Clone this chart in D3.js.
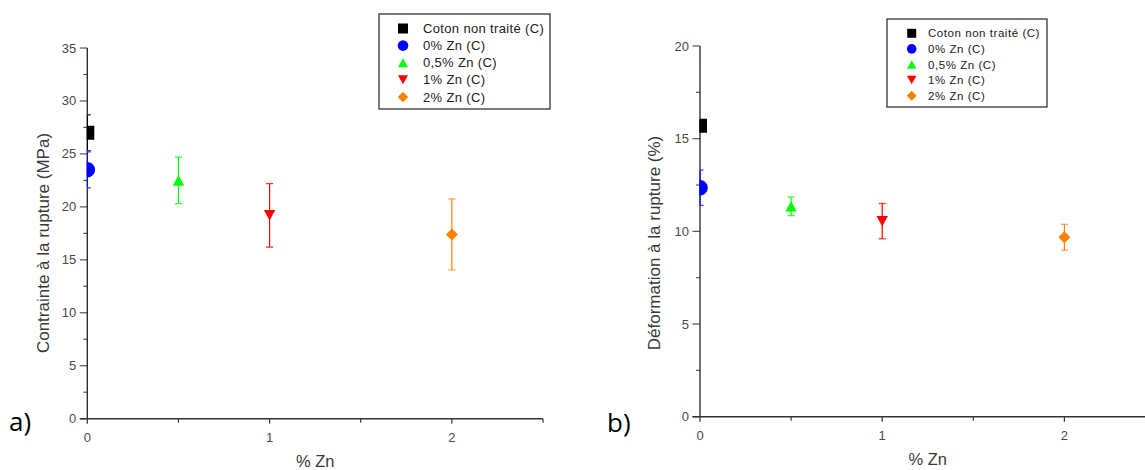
<!DOCTYPE html>
<html><head><meta charset="utf-8">
<script src="https://cdn.jsdelivr.net/npm/d3@7"></script>
<style>
html,body{margin:0;padding:0;background:#fff;}
svg{display:block;}
</style></head>
<body>
<svg id="chart" width="1145" height="470"></svg>
<script>
// ---- data ----
const categories = ["Coton non traité (C)", "0% Zn (C)", "0,5% Zn (C)", "1% Zn (C)", "2% Zn (C)"];
const zincPct = [0, 0, 0.5, 1, 2];
const stressMPa = [27.0, 23.5, 22.5, 19.2, 17.4];
const stressErr = [1.7, 1.7, 2.2, 3.0, 3.35];
const strainPct = [15.7, 12.35, 11.35, 10.55, 9.68];
const strainErr = [0.3, 0.95, 0.5, 0.95, 0.7];
const xTicks = [0, 1, 2];
const xMinorTicks = [0.5, 1.5, 2.5];
const stressTicks = [0, 5, 10, 15, 20, 25, 30, 35];
const strainTicks = [0, 5, 10, 15, 20];

// ---- styles ----
const colors = ["#000000", "#0000ff", "#00ff00", "#ff0000", "#ff8000"];
const capColors = ["#444444", "#3a3aff", "#33ff33", "#ff3333", "#ffa050"];
const shapes = ["square", "circle", "triangle", "down", "diamond"];
const FONT = "'Liberation Sans', Arial, sans-serif";

const svg = d3.select("#chart");

function shapePath(shape, s) {
  const p = d3.path();
  if (shape === "square") { const h = s.sq / 2; p.rect(-h, -h, s.sq, s.sq); }
  else if (shape === "circle") { p.arc(0, 0, s.r, 0, 2 * Math.PI); }
  else if (shape === "triangle") { const w = s.tw / 2, h = s.th / 2; p.moveTo(0, -h); p.lineTo(w, h); p.lineTo(-w, h); p.closePath(); }
  else if (shape === "down") { const w = s.tw / 2, h = s.th / 2; p.moveTo(-w, -h); p.lineTo(w, -h); p.lineTo(0, h); p.closePath(); }
  else if (shape === "diamond") { const d = s.dm / 2; p.moveTo(0, -d); p.lineTo(d, 0); p.lineTo(0, d); p.lineTo(-d, 0); p.closePath(); }
  return p.toString();
}

function drawPanel(cfg) {
  const g = svg.append("g");
  const x = d3.scaleLinear().domain([0, 2.5]).range([cfg.x0, cfg.x1]);
  const y = d3.scaleLinear().domain([0, cfg.ymax]).range([cfg.y0, cfg.y1]);

  const minorY = d3.range(2.5, cfg.ymax, 5);
  g.selectAll(".ymin").data(minorY).join("line")
    .attr("x1", cfg.x0 - 4).attr("x2", cfg.x0)
    .attr("y1", d => y(d)).attr("y2", d => y(d))
    .attr("stroke", "#555").attr("stroke-width", 1.2);
  g.selectAll(".ymaj").data(cfg.yTicks).join("line")
    .attr("x1", cfg.x0 - 7.5).attr("x2", cfg.x0)
    .attr("y1", d => y(d)).attr("y2", d => y(d))
    .attr("stroke", "#555").attr("stroke-width", 1.2);
  g.selectAll(".ylab").data(cfg.yTicks).join("text")
    .attr("x", cfg.x0 - 11).attr("y", d => y(d) + 4.5)
    .attr("text-anchor", "end").attr("font-family", FONT).attr("font-size", 13)
    .attr("fill", "#4a4a4a").text(d => d);

  g.selectAll(".xmaj").data(xTicks).join("line")
    .attr("x1", d => x(d)).attr("x2", d => x(d))
    .attr("y1", cfg.y0).attr("y2", cfg.y0 + 5)
    .attr("stroke", "#333").attr("stroke-width", 1.2);
  g.selectAll(".xmin").data(xMinorTicks).join("line")
    .attr("x1", d => x(d)).attr("x2", d => x(d))
    .attr("y1", cfg.y0).attr("y2", cfg.y0 + 4)
    .attr("stroke", "#333").attr("stroke-width", 1.2);
  g.selectAll(".xlab").data(xTicks).join("text")
    .attr("x", d => x(d)).attr("y", cfg.xLabY)
    .attr("text-anchor", "middle").attr("font-family", FONT).attr("font-size", 13)
    .attr("fill", "#4a4a4a").text(d => d);

  g.append("line").attr("x1", cfg.x0).attr("x2", cfg.x0).attr("y1", cfg.y0).attr("y2", cfg.y1)
    .attr("stroke", "#222").attr("stroke-width", 1.3);
  g.append("line").attr("x1", cfg.x0 - 7.5).attr("x2", cfg.x1).attr("y1", cfg.y0).attr("y2", cfg.y0)
    .attr("stroke", "#333").attr("stroke-width", 1.6);

  const clipId = "clip" + cfg.id;
  svg.append("defs").append("clipPath").attr("id", clipId)
    .append("rect").attr("x", cfg.x0 - 0.6).attr("y", 0).attr("width", 1200).attr("height", cfg.y0);
  const d = g.append("g").attr("clip-path", `url(#${clipId})`);

  const idx = d3.range(categories.length);
  idx.forEach(i => {
    const cx = x(zincPct[i]);
    const lo = y(cfg.vals[i] - cfg.errs[i]), hi = y(cfg.vals[i] + cfg.errs[i]);
    d.append("line").attr("x1", cx).attr("x2", cx).attr("y1", lo).attr("y2", hi)
      .attr("stroke", colors[i]).attr("stroke-width", 1.2);
    [lo, hi].forEach(yy => d.append("line").attr("x1", cx - 3.5).attr("x2", cx + 3.5)
      .attr("y1", yy).attr("y2", yy).attr("stroke", capColors[i]).attr("stroke-width", 1.3));
  });
  d.selectAll(".mk").data(idx).join("path")
    .attr("transform", i => `translate(${x(zincPct[i])},${y(cfg.vals[i])})`)
    .attr("d", i => shapePath(shapes[i], cfg.msize))
    .attr("fill", i => colors[i]);

  g.append("text").attr("transform", `translate(${cfg.yTitleX},${cfg.yTitleY}) rotate(-90)`)
    .attr("text-anchor", "middle").attr("font-family", FONT).attr("font-size", 17)
    .attr("fill", "#3a3a3a").text(cfg.yTitle);
  g.append("text").attr("x", (cfg.x0 + cfg.x1) / 2).attr("y", cfg.xTitleY)
    .attr("text-anchor", "middle").attr("font-family", FONT).attr("font-size", 16.5)
    .attr("fill", "#3a3a3a").text("% Zn");

  g.append("text").attr("x", cfg.letterX).attr("y", cfg.letterY)
    .attr("font-family", "'Open Sans', sans-serif").attr("font-size", 26)
    .attr("fill", "#000").text(cfg.letter);

  const L = cfg.legend;
  const lg = g.append("g");
  lg.append("rect").attr("x", L.x).attr("y", L.y).attr("width", L.w).attr("height", L.h)
    .attr("fill", "#fff").attr("stroke", "#333").attr("stroke-width", 1.3);
  idx.forEach(i => {
    const ry = L.row0 + i * L.step;
    lg.append("path").attr("transform", `translate(${L.mx},${ry})`)
      .attr("d", shapePath(shapes[i], L.msize)).attr("fill", colors[i]);
    lg.append("text").attr("x", L.tx).attr("y", ry + L.fs * 0.36)
      .attr("font-family", FONT).attr("font-size", L.fs)
      .attr("letter-spacing", L.ls).attr("fill", "#222").text(categories[i]);
  });
}

drawPanel({
  id: "a", x0: 87.3, x1: 543, y0: 418.7, y1: 48, ymax: 35, yTicks: stressTicks,
  vals: stressMPa, errs: stressErr,
  msize: { sq: 14, r: 7.8, tw: 11.5, th: 10.5, dm: 12 },
  xLabY: 442, yTitle: "Contrainte à la rupture (MPa)", yTitleX: 49, yTitleY: 243, xTitleY: 467,
  letter: "a)", letterX: 9, letterY: 431,
  legend: { x: 379, y: 14, w: 171, h: 95, row0: 28.5, step: 17.1, mx: 403, tx: 423, fs: 13, ls: 0.35,
    msize: { sq: 10, r: 5.3, tw: 10, th: 9, dm: 10.5 } }
});

drawPanel({
  id: "b", x0: 700, x1: 1155.5, y0: 416.7, y1: 46, ymax: 20, yTicks: strainTicks,
  vals: strainPct, errs: strainErr,
  msize: { sq: 14, r: 7.8, tw: 11.5, th: 10.5, dm: 12 },
  xLabY: 440, yTitle: "Déformation à la rupture (%)", yTitleX: 660, yTitleY: 243, xTitleY: 465,
  letter: "b)", letterX: 607, letterY: 432,
  legend: { x: 887, y: 19, w: 160, h: 88, row0: 33.3, step: 15.6, mx: 911.7, tx: 928, fs: 11.5, ls: 0.55,
    msize: { sq: 9, r: 4.8, tw: 9.5, th: 8.5, dm: 10 } }
});
</script>
</body></html>
